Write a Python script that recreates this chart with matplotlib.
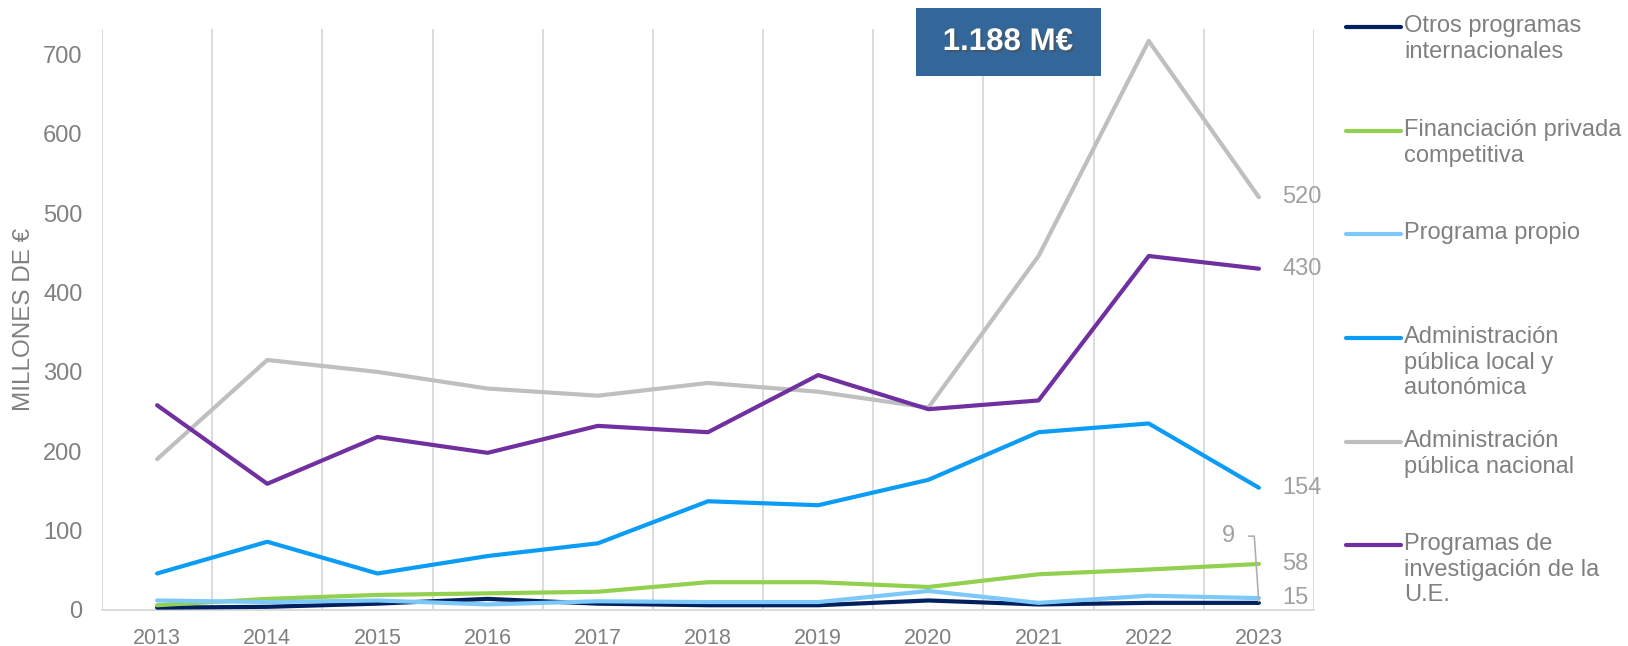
import numpy as np
import matplotlib
matplotlib.use("Agg")
import matplotlib.pyplot as plt
import matplotlib.patheffects as pe
from matplotlib.lines import Line2D
from matplotlib.patches import Rectangle

# Values (millones de euros)
years = ['2013', '2014', '2015', '2016', '2017', '2018', '2019', '2020', '2021', '2022', '2023']
otros_int = [3, 4, 8, 14, 8, 6, 6, 12, 7, 9, 9]
privada = [6, 14, 19, 21, 23, 35, 35, 29, 45, 51, 58]
propio = [12, 10, 12, 7, 11, 10, 10, 24, 9, 18, 15]
local_auto = [46, 86, 46, 68, 84, 137, 132, 164, 224, 235, 154]
nacional = [190, 315, 300, 279, 270, 286, 275, 255, 446, 717, 520]
ue = [258, 159, 218, 198, 232, 224, 296, 253, 264, 446, 430]

labels = ['Otros programas\ninternacionales',
          'Financiación privada\ncompetitiva',
          'Programa propio',
          'Administración\npública local y\nautonómica',
          'Administración\npública nacional',
          'Programas de\ninvestigación de la\nU.E.']
total_label = '1.188 M€'

series = [otros_int, privada, propio, local_auto, nacional, ue]
colors = ['#002060', '#92D050', '#7CC8F8', '#0B9CF5', '#BFBFBF', '#7030A0']

plt.rcParams['font.family'] = ['Liberation Sans', 'DejaVu Sans']
txt_gray = '#808080'
grid_gray = '#D9D9D9'

W, H = 1628, 646
fig = plt.figure(figsize=(W / 100, H / 100), dpi=100)
ax = fig.add_axes([102 / W, 1 - 610 / H, (1314 - 102) / W, (610 - 29) / H])

xs = np.arange(len(years))
for vals, col in zip(series, colors):
    ax.plot(xs, vals, color=col, lw=3.0, solid_capstyle='round', solid_joinstyle='round', zorder=3)

ax.set_xlim(-0.5, len(years) - 0.5)
ax.set_ylim(0, 732)

# category separators (Excel style vertical grid)
for b in np.arange(-0.5, len(years)):
    ax.axvline(b, color=grid_gray, lw=1.3, zorder=0)

for s in ['top', 'left', 'right']:
    ax.spines[s].set_visible(False)
ax.spines['bottom'].set_color(grid_gray)
ax.spines['bottom'].set_linewidth(1.3)

ax.set_xticks(xs, years)
ax.set_yticks(np.arange(0, 701, 100))
ax.tick_params(axis='x', length=0, pad=13, labelsize=15.5, labelcolor=txt_gray)
ax.tick_params(axis='y', length=0, pad=14, labelsize=17, labelcolor=txt_gray)
ax.set_ylabel('MILLONES DE €', fontsize=17.5, color=txt_gray, labelpad=6)

# end-of-line value labels
lab_gray = '#A0A0A0'
for vals in [nacional, ue, local_auto, privada, propio]:
    ax.annotate(str(vals[-1]), xy=(xs[-1], vals[-1]), xytext=(17, 0),
                textcoords='offset points', ha='left', va='center',
                fontsize=17, color=lab_gray)
ax.annotate(str(otros_int[-1]), xy=(xs[-1], otros_int[-1]), xytext=(9.72, 93),
            ha='center', va='center', fontsize=17, color=lab_gray,
            arrowprops=dict(arrowstyle='-', color='#B0B0B0', lw=1.2,
                            connectionstyle='angle,angleA=0,angleB=94,rad=0',
                            shrinkA=8, shrinkB=1))

# manual legend, handle aligned with first text line
leg_y = [27, 131, 234, 338, 442, 545]
for lab, col, yp in zip(labels, colors, leg_y):
    yf = 1 - yp / H
    fig.add_artist(Line2D([1346 / W, 1401 / W], [yf, yf], color=col, lw=3.0,
                          solid_capstyle='round', transform=fig.transFigure))
    fig.text(1404 / W, yf + 12 / H, lab, ha='left', va='top', fontsize=17,
             color=txt_gray, linespacing=1.22)

# total box
fig.add_artist(Rectangle((916 / W, 1 - 76 / H), (1101 - 916) / W, (76 - 8) / H,
                         transform=fig.transFigure, facecolor='#336699',
                         edgecolor='none', zorder=5))
fig.text(1008 / W, 1 - 42 / H, total_label, ha='center', va='center',
         fontsize=22.5, fontweight='bold', color='white', zorder=6,
         path_effects=[pe.SimplePatchShadow(offset=(1.5, -1.5), alpha=0.6), pe.Normal()])

fig.savefig('out.png', dpi=100)
